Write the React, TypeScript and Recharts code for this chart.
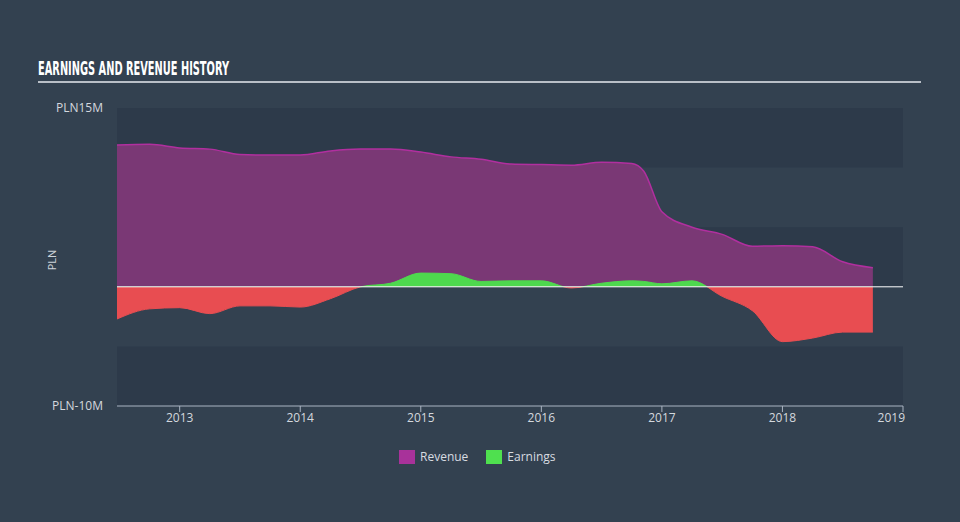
import { AreaChart, Area, XAxis, YAxis, ReferenceArea, ReferenceLine } from 'recharts';

const dates = [
  2012.48, 2012.75, 2013.0, 2013.25, 2013.5, 2013.75, 2014.0, 2014.25, 2014.5, 2014.75,
  2015.0, 2015.25, 2015.5, 2015.75, 2016.0, 2016.25, 2016.5, 2016.75, 2016.85, 2017.0,
  2017.25, 2017.5, 2017.75, 2018.0, 2018.25, 2018.5, 2018.75,
];

// PLN millions
const revenue = [
  11.9, 11.95, 11.65, 11.55, 11.1, 11.05, 11.05, 11.4, 11.55, 11.55,
  11.3, 10.9, 10.7, 10.3, 10.25, 10.2, 10.45, 10.35, 9.7, 6.3,
  5.0, 4.4, 3.4, 3.45, 3.35, 2.1, 1.6,
];

const earnings = [
  -2.7, -1.85, -1.75, -2.25, -1.6, -1.6, -1.7, -1.0, 0, 0.3,
  1.15, 1.1, 0.45, 0.5, 0.5, -0.1, 0.3, 0.5, 0.45, 0.25,
  0.5, -0.8, -2.0, -4.6, -4.3, -3.8, -3.8,
];

const yearTicks = [2013, 2014, 2015, 2016, 2017, 2018, 2019];
const valueTicks = [15, -10];

const data = dates.map((t, i) => ({ t, revenue: revenue[i], earnings: earnings[i] }));

const BG = '#334150';
const BAND = '#2d3a4a';
const labelFont = "'Open Sans', 'Noto Sans', sans-serif";

function YearTick(props: any) {
  const { x, y, payload } = props;
  const last = payload.value === 2019;
  return (
    <text
      x={last ? x + 2 : x}
      y={y + 8}
      textAnchor={last ? 'end' : 'middle'}
      fill="#d3d8de"
      fontSize={12}
      fontFamily={labelFont}
    >
      {payload.value}
    </text>
  );
}

export default function App() {
  return (
    <div
      style={{
        position: 'absolute',
        top: 0,
        left: 0,
        width: 960,
        height: 522,
        background: BG,
        overflow: 'hidden',
      }}
    >
      <svg width={960} height={522} style={{ position: 'absolute', top: 0, left: 0 }}>
        <text
          x={38}
          y={75}
          fill="#ffffff"
          fontSize={20}
          fontWeight="bold"
          fontFamily="'DejaVu Sans Condensed', 'Liberation Sans Narrow', sans-serif"
          textLength={191}
          lengthAdjust="spacingAndGlyphs"
        >
          EARNINGS AND REVENUE HISTORY
        </text>
        <line x1={38} x2={921} y1={82} y2={82} stroke="#b9bfc7" strokeWidth={2} />
        <text
          x={56}
          y={260}
          transform="rotate(-90 56 260)"
          textAnchor="middle"
          fill="#cfd4da"
          fontSize={11}
          fontFamily={labelFont}
        >
          PLN
        </text>
      </svg>

      <div style={{ position: 'absolute', top: 0, left: 0 }}>
        <AreaChart
          width={960}
          height={522}
          data={data}
          margin={{ top: 108, right: 57, bottom: 86, left: 57 }}
        >
          <defs>
            <linearGradient id="earnFill" gradientUnits="userSpaceOnUse" x1={0} y1={108} x2={0} y2={406}>
              <stop offset="0.6" stopColor="#4ed84e" />
              <stop offset="0.6" stopColor="#e84d51" />
            </linearGradient>
          </defs>
          <ReferenceArea y1={10} y2={15} fill={BAND} fillOpacity={1} stroke="none" ifOverflow="visible" />
          <ReferenceArea y1={0} y2={5} fill={BAND} fillOpacity={1} stroke="none" ifOverflow="visible" />
          <ReferenceArea y1={-10} y2={-5} fill={BAND} fillOpacity={1} stroke="none" ifOverflow="visible" />
          <XAxis
            dataKey="t"
            type="number"
            domain={[2012.48, 2019]}
            ticks={yearTicks}
            height={30}
            stroke="#aab4c2"
            tickLine={{ stroke: '#aab4c2' }}
            tickSize={6}
            tick={<YearTick />}
            interval={0}
            allowDataOverflow
          />
          <YAxis
            type="number"
            domain={[-10, 15]}
            ticks={valueTicks}
            width={60}
            axisLine={false}
            tickLine={false}
            tickSize={0}
            tickMargin={14}
            tickFormatter={(v: number) => `PLN${v}M`}
            tick={{ fill: '#d3d8de', fontSize: 12, fontFamily: labelFont }}
            interval={0}
          />
          <Area
            type="monotone"
            dataKey="revenue"
            stroke="#b12f9f"
            strokeWidth={1.5}
            fill="#7a3875"
            fillOpacity={1}
            isAnimationActive={false}
            dot={false}
            activeDot={false}
          />
          <Area
            type="monotone"
            dataKey="earnings"
            stroke="url(#earnFill)"
            strokeWidth={1}
            fill="url(#earnFill)"
            fillOpacity={1}
            isAnimationActive={false}
            dot={false}
            activeDot={false}
          />
          <ReferenceLine y={0} stroke="#ffffff" strokeWidth={1} />
        </AreaChart>
      </div>

      <div
        style={{
          position: 'absolute',
          top: 448,
          left: 399,
          display: 'flex',
          alignItems: 'center',
          fontFamily: labelFont,
          fontSize: 12,
          color: '#d8dce1',
        }}
      >
        <span style={{ width: 16, height: 14, background: '#a8329a', display: 'inline-block' }} />
        <span style={{ marginLeft: 5, marginRight: 18 }}>Revenue</span>
        <span style={{ width: 16, height: 14, background: '#4fe04f', display: 'inline-block' }} />
        <span style={{ marginLeft: 5 }}>Earnings</span>
      </div>
    </div>
  );
}
